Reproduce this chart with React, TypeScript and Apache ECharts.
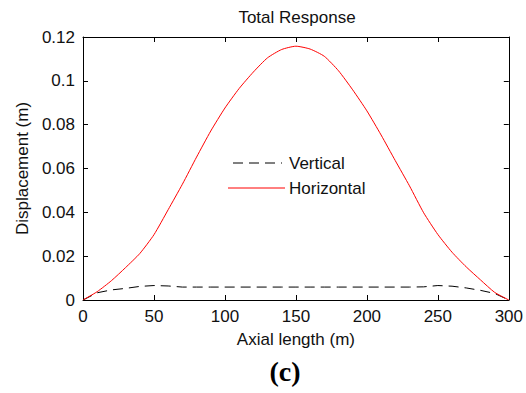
import React, { useEffect, useRef } from "react";
import * as echarts from "echarts";

const axialLength = [0, 10, 20, 30, 40, 50, 60, 70, 80, 90, 100, 110, 120, 130, 140, 150, 160, 170, 180, 190, 200, 210, 220, 230, 240, 250, 260, 270, 280, 290, 300];
const horizontal = [0, 0.0038, 0.0088, 0.0148, 0.0212, 0.0298, 0.0412, 0.0528, 0.0652, 0.0771, 0.0876, 0.0965, 0.104, 0.1105, 0.1143, 0.1158, 0.1145, 0.1112, 0.1046, 0.0959, 0.0863, 0.0753, 0.0636, 0.0521, 0.0398, 0.0299, 0.0218, 0.0151, 0.0092, 0.0035, 0];
const vertical = [0, 0.0033, 0.0046, 0.0053, 0.0062, 0.0066, 0.0064, 0.0059, 0.0059, 0.0059, 0.0059, 0.0059, 0.0059, 0.0059, 0.0059, 0.0059, 0.0059, 0.0059, 0.0059, 0.0059, 0.0059, 0.0059, 0.0059, 0.0059, 0.006, 0.0066, 0.0063, 0.0055, 0.0044, 0.003, 0];
const xTicks = { min: 0, max: 300, interval: 50 };
const yTicks = { min: 0, max: 0.12, interval: 0.02 };

const FONT = "'Liberation Sans', Arial, sans-serif";
const FS = 17;

export default function App() {
  const ref = useRef<HTMLDivElement>(null);
  useEffect(() => {
    if (!ref.current) return;
    const chart = echarts.init(ref.current, undefined, { renderer: "svg" });
    const axisLine = { show: true, onZero: false, lineStyle: { color: "#000", width: 1 } };
    const tick = { show: true, inside: true, length: 5, lineStyle: { color: "#000" } };
    const fmt = (v: number) => String(+v.toFixed(2));
    chart.setOption({
      animation: false,
      backgroundColor: "#fff",
      textStyle: { fontFamily: FONT },
      grid: { left: 83, right: 14, top: 37, bottom: 93 },
      xAxis: [
        {
          type: "value", ...xTicks, position: "bottom",
          axisLine, axisTick: tick, splitLine: { show: false },
          axisLabel: { color: "#111", fontSize: FS, fontFamily: FONT, margin: 8, formatter: fmt },
          name: "Axial length (m)", nameLocation: "middle", nameGap: 31,
          nameTextStyle: { color: "#111", fontSize: FS, fontFamily: FONT },
        },
        {
          type: "value", ...xTicks, position: "top",
          axisLine, axisTick: tick, axisLabel: { show: false }, splitLine: { show: false },
        },
      ],
      yAxis: [
        {
          type: "value", ...yTicks, position: "left",
          axisLine, axisTick: tick, splitLine: { show: false },
          axisLabel: { color: "#111", fontSize: FS, fontFamily: FONT, margin: 8, formatter: fmt },
          name: "Displacement (m)", nameLocation: "middle", nameGap: 51,
          nameTextStyle: { color: "#111", fontSize: FS, fontFamily: FONT },
        },
        {
          type: "value", ...yTicks, position: "right",
          axisLine, axisTick: tick, axisLabel: { show: false }, splitLine: { show: false },
        },
      ],
      series: [
        {
          name: "Vertical", type: "line", symbol: "none",
          data: axialLength.map((x, i) => [x, vertical[i]]),
          lineStyle: { color: "#000", width: 1, type: [10, 6] },
        },
        {
          name: "Horizontal", type: "line", symbol: "none", smooth: 0.2,
          data: axialLength.map((x, i) => [x, horizontal[i]]),
          lineStyle: { color: "#ff0000", width: 1 },
        },
      ],
      graphic: [
        {
          type: "text", x: 297, y: 17,
          style: { text: "Total Response", fontSize: FS, fontFamily: FONT, fill: "#111", align: "center", verticalAlign: "middle" },
        },
        {
          type: "line", shape: { x1: 233, y1: 163, x2: 282, y2: 163 },
          style: { stroke: "#000", lineWidth: 1, lineDash: [10, 6] },
        },
        {
          type: "text", x: 289, y: 163,
          style: { text: "Vertical", fontSize: FS, fontFamily: FONT, fill: "#111", align: "left", verticalAlign: "middle" },
        },
        {
          type: "line", shape: { x1: 228, y1: 188, x2: 285, y2: 188 },
          style: { stroke: "#ff0000", lineWidth: 1 },
        },
        {
          type: "text", x: 289, y: 188,
          style: { text: "Horizontal", fontSize: FS, fontFamily: FONT, fill: "#111", align: "left", verticalAlign: "middle" },
        },
        {
          type: "text", x: 285, y: 371,
          style: { text: "(c)", fontSize: 28, fontFamily: "'Liberation Serif', 'Times New Roman', serif", fontWeight: "bold", fill: "#000", align: "center", verticalAlign: "middle" },
        },
      ],
    });
    return () => chart.dispose();
  }, []);
  return <div ref={ref} style={{ position: "absolute", left: 0, top: 0, width: 526, height: 393 }} />;
}
